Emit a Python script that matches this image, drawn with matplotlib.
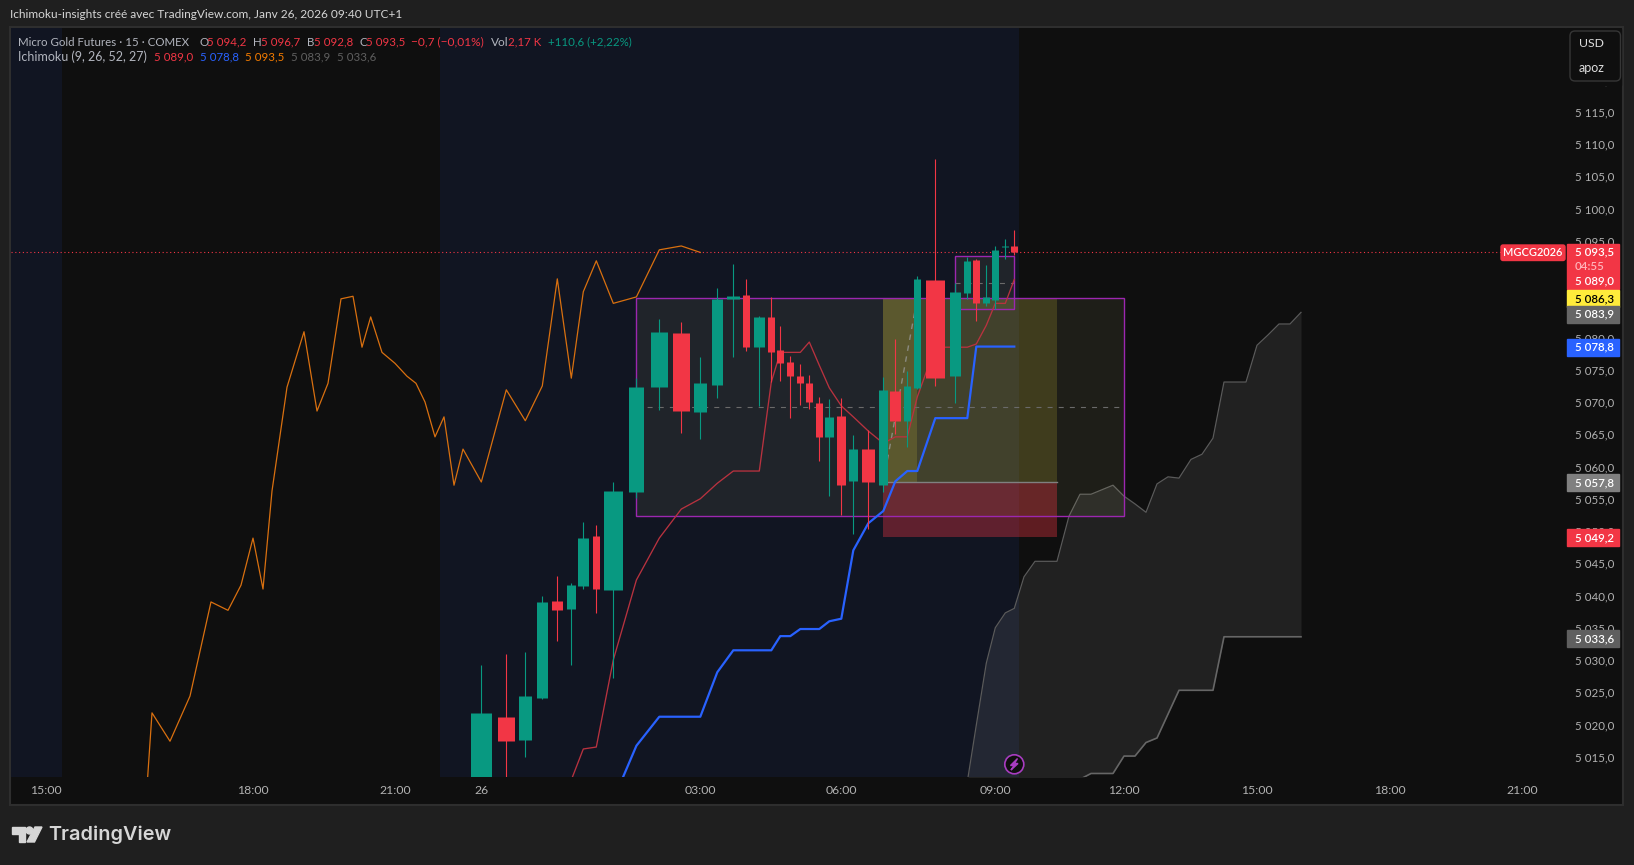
import numpy as np
import matplotlib
matplotlib.use('Agg')
import matplotlib.pyplot as plt
from matplotlib.patches import Rectangle, Circle, Polygon, FancyBboxPatch
from matplotlib.transforms import IdentityTransform, blended_transform_factory

WIDTH, HEIGHT = 1634, 865

# candles, bar 0 is 00:00 on the 26th, one bar is 15 minutes
opens = [5005.0, 5021.2, 5017.6, 5024.1, 5039.1, 5037.9, 5041.5, 5049.2, 5040.9, 5056.0,
         5072.3, 5080.7, 5068.4, 5072.6, 5086.0, 5086.6, 5078.5, 5083.2, 5078.0, 5076.2,
         5074.0, 5072.9, 5069.8, 5064.6, 5067.8, 5057.7, 5062.7, 5057.1, 5071.7, 5067.1,
         5072.2, 5088.9, 5074.0, 5086.9, 5092.0, 5085.3, 5085.8, 5094.0, 5094.2]
highs = [5029.2, 5030.9, 5031.2, 5039.9, 5043.0, 5041.9, 5051.4, 5050.9, 5057.6, 5073.7,
         5082.9, 5082.4, 5077.0, 5087.7, 5091.4, 5089.1, 5083.4, 5086.3, 5081.8, 5077.1,
         5075.9, 5074.2, 5070.8, 5070.5, 5070.6, 5064.9, 5065.6, 5073.9, 5079.8, 5074.8,
         5089.5, 5107.7, 5088.4, 5092.5, 5092.2, 5091.2, 5094.2, 5095.3, 5096.7]
lows = [5003.0, 5008.0, 5015.0, 5024.0, 5032.9, 5029.2, 5041.0, 5037.3, 5027.2, 5055.1,
        5068.7, 5065.2, 5064.2, 5070.6, 5077.0, 5077.9, 5069.4, 5073.1, 5073.2, 5067.5,
        5069.5, 5068.9, 5060.9, 5055.4, 5052.5, 5049.5, 5050.3, 5056.0, 5065.0, 5063.0,
        5072.0, 5072.5, 5069.8, 5086.0, 5082.6, 5084.9, 5084.4, 5092.2, 5092.8]
closes = [5021.8, 5017.4, 5024.4, 5039.0, 5037.7, 5041.6, 5048.9, 5041.0, 5056.2, 5072.3,
          5080.9, 5068.6, 5072.9, 5086.0, 5086.4, 5078.5, 5083.2, 5077.7, 5076.0, 5074.0,
          5072.9, 5070.0, 5064.6, 5067.7, 5057.1, 5062.7, 5057.6, 5071.9, 5067.1, 5072.5,
          5089.1, 5073.7, 5087.1, 5091.9, 5085.3, 5086.3, 5093.6, 5094.2, 5093.2]
body_px = [21, 17, 13, 11, 11, 9, 11, 7, 19, 15, 17, 17, 13, 11, 13, 7, 11, 7, 7, 7,
           7, 7, 7, 9, 9, 9, 13, 9, 11, 7, 7, 19, 11, 7, 7, 7, 7, 7, 7]
prior_close = 5008.0  # the bar before the first one, lagging span only

# ichimoku lines
tenkan_bars = list(range(4, 39))
tenkan = [5005.0, 5011.4, 5016.2, 5016.5, 5030.0, 5042.4, 5048.9, 5053.4, 5055.0, 5057.4,
          5059.3, 5059.3, 5059.3, 5073.1, 5077.7, 5077.7, 5077.7, 5079.3, 5075.7, 5072.2,
          5069.4, 5067.7, 5065.5, 5063.6, 5064.6, 5064.6, 5070.8, 5078.5, 5078.5, 5078.5,
          5079.0, 5081.9, 5085.3, 5085.3, 5089.0]
kijun_bars = list(range(8, 39))
kijun = [5008.3, 5016.7, 5021.2, 5021.2, 5021.2, 5028.1, 5031.5, 5031.5, 5031.5, 5031.5,
         5033.7, 5033.7, 5034.8, 5034.8, 5034.8, 5036.0, 5036.4, 5047.0, 5051.2, 5053.1,
         5057.7, 5059.3, 5059.3, 5067.5, 5067.5, 5067.5, 5078.6, 5078.6, 5078.6, 5078.6,
         5078.6]
cloud_bars = list(range(33, 65))
span_a = [5011.1, 5019.9, 5029.5, 5035.0, 5037.3, 5038.0, 5042.9, 5045.3, 5045.3, 5045.3,
          5052.3, 5055.7, 5055.7, 5056.4, 5057.1, 5055.4, 5054.2, 5052.9, 5057.3, 5058.4,
          5058.2, 5061.1, 5061.9, 5064.4, 5073.1, 5073.1, 5073.1, 5078.8, 5080.4, 5082.1,
          5082.1, 5083.9]
span_b = [5008.0, 5008.0, 5008.0, 5008.0, 5008.0, 5008.0, 5008.0, 5008.0, 5008.0, 5008.0,
          5008.0, 5011.5, 5012.4, 5012.4, 5012.4, 5015.1, 5015.1, 5017.2, 5017.9, 5021.6,
          5025.3, 5025.3, 5025.3, 5025.3, 5033.6, 5033.6, 5033.6, 5033.6, 5033.6, 5033.6,
          5033.6, 5033.6]

# time scale, the bars are not evenly spaced in this screenshot
scale_bars = [-34, -32, -27, -26, -25, -24, -23, -22, -21, -20, -19, -18, -17, -16, -15, -14,
              -13, -12, -11, -10, -9, -8, -7, -6, -5, -4, -3, -2, -1,
              0, 1, 2, 3, 4, 5, 6, 7, 8, 9, 10, 11, 12, 13, 14, 15, 16, 17, 18, 19,
              20, 21, 22, 23, 24, 25, 26, 27, 28, 29, 30, 31, 32, 33, 34, 35, 36, 37, 38,
              39, 40, 42, 43, 44, 45, 46, 47, 48, 50, 51, 52, 53, 54, 55, 56, 57, 59, 60,
              61, 62, 63, 64, 72, 84, 90]
scale_pos = [6, 46, 146, 152, 170, 190, 211, 228, 241, 253, 263, 272, 287, 304, 317, 328,
             341, 353, 362, 370.7, 382, 395, 407, 416, 425, 435, 444, 454, 463,
             481.3, 506.3, 525.3, 542.3, 557.3, 571.3, 583.3, 596.3, 613.3, 636.4, 659.3,
             681.3, 700.3, 717.3, 733.3, 746.3, 759.3, 771.3, 780.3, 790.3,
             800.3, 809.3, 819.3, 829.3, 841.3, 853.3, 868.3, 883.3, 895.3, 907.3, 917.3,
             935.3, 955.3, 967.3, 976.3, 986.3, 995.3, 1005.3, 1014.3,
             1024, 1035, 1057, 1069, 1080, 1091, 1102, 1113, 1124, 1146, 1157, 1168, 1179,
             1191, 1202, 1213, 1224, 1246, 1257, 1268, 1279, 1290, 1301, 1390, 1522, 1588]

time_ticks = [-32, -20, -8, 0, 12, 24, 36, 48, 60, 72, 84]
time_labels = ['15:00', '18:00', '21:00', '26', '03:00', '06:00', '09:00', '12:00', '15:00', '18:00', '21:00']
price_ticks = list(range(5015, 5125, 5))

# drawings
box_bars = (9, 48)
box_prices = (5052.3, 5086.1, 5069.2)
small_box_bars = (32, 38)
small_box_prices = (5084.4, 5092.6, 5088.5)
trade_bars = (27, 42)
trade_prices = (5049.0, 5057.6, 5086.1)
trade_hit_bar = 30
sessions = [(-33.75, -31.2), (-3.4, 38.5)]
last_price = 5093.2

GREEN = '#089981'
RED = '#f23645'
BLUE = '#2962ff'
ORANGE = '#d9700f'
FONT = 'Lato'
LABEL = '#b2b5be'
NUM_SIZE = 8.25
plt.rcParams['font.family'] = [FONT, 'DejaVu Sans']


def price_label(value):
    return f'{value:,.1f}'.replace(',', '\u00a0').replace('.', ',')


def forward(x):
    return np.interp(x, scale_bars, scale_pos)


def inverse(x):
    return np.interp(x, scale_pos, scale_bars)


def figtext(fig, px, py, text, color, size=NUM_SIZE, ha='left', weight='normal', z=8):
    fig.text(px / WIDTH, 1 - py / HEIGHT, text, color=color, fontsize=size, ha=ha, va='center',
             fontweight=weight, zorder=z)


def draw_frame(fig):
    fig.add_artist(Rectangle((10, HEIGHT - 805), 1613, 778, transform=IdentityTransform(),
                             facecolor='#0f0f0f', edgecolor='#2e2e2e', linewidth=1.5, zorder=-1))
    figtext(fig, 10.5, 15, 'Ichimoku-insights créé avec TradingView.com, Janv 26, 2026 09:40 UTC+1', '#d6d6d6', 8.6)

    # logo
    logo = '#d6d6d6'
    fig.add_artist(Polygon([(11.5, HEIGHT - 827), (25, HEIGHT - 827), (25, HEIGHT - 842), (19, HEIGHT - 842),
                            (19, HEIGHT - 834), (11.5, HEIGHT - 834)], transform=IdentityTransform(), color=logo))
    fig.add_artist(Circle((29.5, HEIGHT - 830.5), 3.5, transform=IdentityTransform(), color=logo))
    fig.add_artist(Polygon([(35, HEIGHT - 827), (42, HEIGHT - 827), (34.5, HEIGHT - 842), (27, HEIGHT - 842)],
                           transform=IdentityTransform(), color=logo))
    fig.text(48 / WIDTH, 1 - 835 / HEIGHT, 'TradingView', color=logo, fontsize=14.3, fontweight='semibold',
             family='Inter', ha='left', va='center')


def draw_legend(fig):
    row1 = [(18, 'Micro Gold Futures · 15 · COMEX', LABEL, 8.25), (199.5, 'O', LABEL, 8.25), (207.5, '5\u00a0094,2', RED, 8.25),
            (253, 'H', LABEL, 8.25), (261, '5\u00a0096,7', RED, 8.25), (306.5, 'B', LABEL, 8.25), (313.5, '5\u00a0092,8', RED, 8.25),
            (359, 'C', LABEL, 8.25), (366, '5\u00a0093,5', RED, 8.25), (411.5, '−0,7 (−0,01%)', RED, 8.55), (491, 'Vol', LABEL, 8.6),
            (507.5, '2,17\u00a0K', RED, 8.25), (548, '+110,6 (+2,22%)', GREEN, 8.25)]
    row2 = [(18, 'Ichimoku (9, 26, 52, 27)', LABEL, 9.0), (154.5, '5\u00a0089,0', RED, 8.25), (199.5, '5\u00a0078,8', BLUE, 8.25),
            (245, '5\u00a0093,5', '#f57c00', 8.25), (291, '5\u00a0083,9', '#5f5f5f', 8.25), (337, '5\u00a0033,6', '#5f5f5f', 8.25)]
    for px, text, color, size in row1:
        figtext(fig, px, 42, text, color, size)
    for px, text, color, size in row2:
        figtext(fig, px, 57, text, color, size)


def draw_tags(fig, ax):
    trans = blended_transform_factory(fig.transFigure, ax.transData)
    left = 1567 / WIDTH
    width = 52 / WIDTH

    # last price block, three rows
    fig.add_artist(Rectangle((left, 5087.5), width, 7.0, transform=trans, color=RED, zorder=6))
    for price, text, color in [(5093.3, '5\u00a0093,5', 'white'), (5091.0, '04:55', '#ffb3ba'), (5088.8, '5\u00a0089,0', 'white')]:
        fig.text(1575 / WIDTH, price, text, color=color, fontsize=NUM_SIZE, ha='left', va='center', transform=trans,
                 fontweight='semibold', zorder=8)

    tags = [(5086.3, '#ffeb3b', 'black'), (5083.9, '#666666', 'white'), (5078.8, BLUE, 'white'),
            (5057.8, '#808080', 'white'), (5049.2, RED, 'white'), (5033.6, '#5f5f5f', 'white')]
    for price, bg, fg in tags:
        fig.add_artist(Rectangle((left, price - 1.6), width, 2.64, transform=trans, color=bg, zorder=6))
        fig.text(1575 / WIDTH, price - 0.3, price_label(price), color=fg, fontsize=NUM_SIZE, ha='left', va='center',
                 transform=trans, fontweight='semibold', zorder=8)

    # symbol tag on the last price line
    fig.add_artist(FancyBboxPatch((1501, HEIGHT - 260.5), 64, 15.5, boxstyle='round,pad=0,rounding_size=2',
                                  transform=IdentityTransform(), color=RED, zorder=6))
    figtext(fig, 1533, 252.5, 'MGCG2026', 'white', 7.9, ha='center', weight='semibold')

    # currency box, it hides the top price label except for the comma tail
    fig.add_artist(Rectangle((1567, HEIGHT - 84.5), 54, 56, transform=IdentityTransform(), color='#0f0f0f', zorder=5.5))
    fig.add_artist(FancyBboxPatch((1570, HEIGHT - 81), 50.5, 50, boxstyle='round,pad=0,rounding_size=5',
                                  transform=IdentityTransform(), facecolor='#0f0f0f', edgecolor='#363636',
                                  linewidth=1, zorder=6))
    figtext(fig, 1579, 43.5, 'USD', '#dddddd', 8.8)
    figtext(fig, 1579, 67.5, 'apoz', '#dddddd', 9.0)

    # flash icon
    fig.add_artist(Circle((1014.3, HEIGHT - 764.3), 9.5, transform=IdentityTransform(), facecolor='#0f0f0f',
                          edgecolor='#a83cc0', linewidth=1.2, zorder=6))
    fig.add_artist(Polygon([(1017.5, HEIGHT - 758.5), (1010.5, HEIGHT - 765.5), (1014, HEIGHT - 765.5),
                            (1011, HEIGHT - 770), (1018, HEIGHT - 763.5), (1014.5, HEIGHT - 763.5)],
                           transform=IdentityTransform(), color='#a83cc0', zorder=7))


def draw_box(ax, bars, prices):
    x0, x1 = bars
    low, high, mid = prices
    ax.add_patch(Rectangle((x0, low), x1 - x0, high - low, facecolor='#ffffa0', alpha=0.065, edgecolor='none', zorder=1.2))
    ax.add_patch(Rectangle((x0, low), x1 - x0, high - low, facecolor='none', edgecolor='#9c27b0', linewidth=1.0, zorder=1.6))
    ax.plot([x0, x1], [mid, mid], color='#6a6a6a', linewidth=0.8, linestyle=(0, (4.5, 5.5)), zorder=1.5)


def draw_drawings(ax):
    draw_box(ax, box_bars, box_prices)
    draw_box(ax, small_box_bars, small_box_prices)

    # long position
    x0, x1 = trade_bars
    stop, entry, target = trade_prices
    ax.add_patch(Rectangle((x0, entry), x1 - x0, target - entry, facecolor='#ffeb3b', alpha=0.15, edgecolor='none', zorder=1.3))
    ax.add_patch(Rectangle((x0, stop), x1 - x0, entry - stop, facecolor=RED, alpha=0.35, edgecolor='none', zorder=1.3))
    ax.add_patch(Rectangle((x0, entry), trade_hit_bar - x0, target - entry, facecolor='#ffeb3b', alpha=0.14, edgecolor='none', zorder=1.35))
    ax.plot([x0, x1], [entry, entry], color='#808080', linewidth=1.0, zorder=1.5)
    ax.plot([x0, trade_hit_bar], [entry, target], color='#8a8a80', linewidth=1.0, linestyle=(0, (4, 4)), zorder=1.5)


def draw_ichimoku(ax):
    bars = np.array(range(len(closes)))
    ax.fill_between(cloud_bars, span_a, span_b, color='white', alpha=0.08, linewidth=0, zorder=1)
    ax.plot(cloud_bars, span_a, color='#5a5a5a', linewidth=0.9, zorder=1.1)
    ax.plot(cloud_bars, span_b, color='#666666', linewidth=1.2, zorder=1.1)

    # lagging span is the close moved back 26 bars
    lag_x = np.concatenate(([bars[0] - 27], bars - 26))
    lag_y = [prior_close] + closes
    ax.plot(lag_x, lag_y, color=ORANGE, linewidth=0.9, zorder=2)

    ax.plot(tenkan_bars, tenkan, color='#b8323f', linewidth=0.95, zorder=2)
    ax.plot(kijun_bars, kijun, color=BLUE, linewidth=1.6, zorder=2.1)


def draw_candles(ax):
    bars = np.arange(len(closes))
    colors = [GREEN if c >= o else RED for o, c in zip(opens, closes)]
    ax.vlines(bars, lows, highs, colors=colors, linewidth=0.8, capstyle='butt', snap=True, zorder=3)
    ax.vlines(bars, opens, closes, colors=colors, linewidth=np.array(body_px) * 0.72, capstyle='butt', zorder=3.1)


def main():
    fig = plt.figure(figsize=(WIDTH / 100, HEIGHT / 100), dpi=100, facecolor='#1f1f1f')
    ax = fig.add_axes([11 / WIDTH, 1 - 776.7 / HEIGHT, 1554 / WIDTH, 748.7 / HEIGHT], facecolor='#0f0f0f')
    ax.set_xscale('function', functions=(forward, inverse))
    ax.set_xlim(inverse(11), inverse(1565))
    ax.set_ylim(5011.9, 5128.0)

    for start, end in sessions:
        ax.axvspan(start, end, facecolor='#111522', edgecolor='none', zorder=0.5)

    draw_ichimoku(ax)
    draw_drawings(ax)
    draw_candles(ax)
    ax.axhline(last_price, xmax=(1501 - 11) / 1554, color=RED, linewidth=0.8, linestyle=(0, (1, 2.4)), zorder=2.5)

    ax.set_xticks(time_ticks)
    ax.set_xticklabels(time_labels)
    ax.minorticks_off()
    ax.set_yticks(price_ticks)
    ax.set_yticklabels([price_label(p) for p in price_ticks])
    ax.yaxis.tick_right()
    ax.tick_params(axis='x', length=0, pad=6, labelsize=8.8, labelcolor='#b2b2b2')
    ax.tick_params(axis='y', length=0, pad=7, labelsize=NUM_SIZE, labelcolor='#b2b2b2')
    for spine in ax.spines.values():
        spine.set_visible(False)

    draw_frame(fig)
    draw_legend(fig)
    draw_tags(fig, ax)

    fig.savefig('out.png', dpi=100, facecolor=fig.get_facecolor())


if __name__ == '__main__':
    main()
